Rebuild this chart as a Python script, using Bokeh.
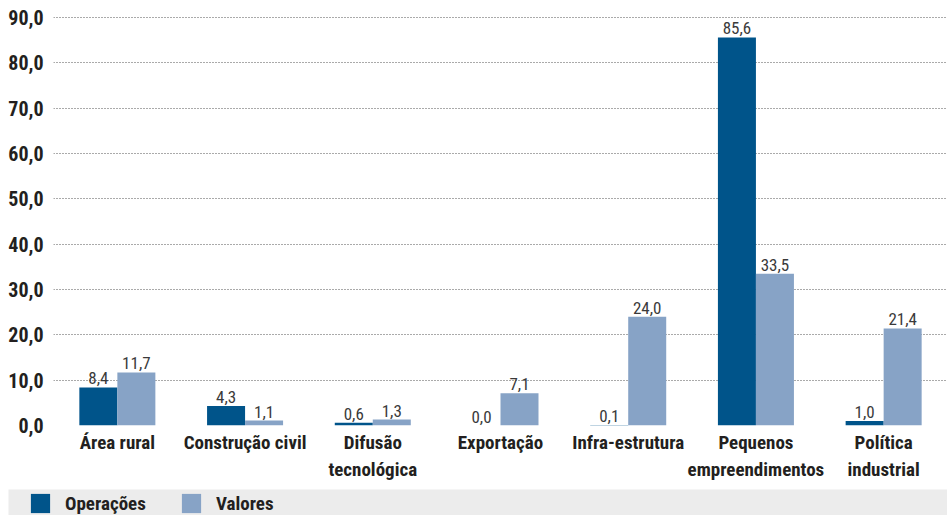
from bokeh.plotting import figure
from bokeh.models import (FactorRange, Range1d, FixedTicker, CustomJSTickFormatter,
                          ColumnDataSource, Legend, LegendItem)
from bokeh.transform import dodge
from bokeh.layouts import column
from bokeh.core.properties import value
from bokeh.embed import file_html
from bokeh.resources import INLINE

categories = ["Área rural", "Construção civil", "Difusão\ntecnológica", "Exportação",
              "Infra-estrutura", "Pequenos\nempreendimentos", "Política\nindustrial"]
operacoes = [8.4, 4.3, 0.6, 0.0, 0.1, 85.6, 1.0]
valores = [11.7, 1.1, 1.3, 7.1, 24.0, 33.5, 21.4]
series_names = ["Operações", "Valores"]
y_ticks = [0, 10, 20, 30, 40, 50, 60, 70, 80, 90]

DARK = "#00548a"
LIGHT = "#87a3c6"
TXT = "#231f20"
FONT = "Roboto Condensed, DejaVu Sans Condensed, Roboto"


def fmt(v):
    return f"{v:.1f}".replace(".", ",")


src = ColumnDataSource(dict(
    cat=categories,
    ops=operacoes,
    vals=valores,
    ops_lbl=[fmt(v) for v in operacoes],
    vals_lbl=[fmt(v) for v in valores],
))

bw = 0.2976

# ---------------- main chart ----------------
p = figure(x_range=FactorRange(*categories), y_range=Range1d(0, 93.75),
           width=947, height=489, output_backend="svg", toolbar_location=None,
           min_border_left=53, min_border_right=0, min_border_top=0, min_border_bottom=64)
p.outline_line_color = None
p.background_fill_color = "white"
p.border_fill_color = "white"

p.vbar(x=dodge("cat", -bw / 2, range=p.x_range), top="ops", width=bw, source=src,
       fill_color=DARK, line_color=None)
p.vbar(x=dodge("cat", bw / 2, range=p.x_range), top="vals", width=bw, source=src,
       fill_color=LIGHT, line_color=None)

for col, lbl, off in (("ops", "ops_lbl", -bw / 2), ("vals", "vals_lbl", bw / 2)):
    p.text(x=dodge("cat", off, range=p.x_range), y=col, text=lbl, source=src,
           text_align="center", text_baseline="bottom", y_offset=-3,
           text_font=value(FONT), text_font_size="17px", text_color="#3a3a3a")

p.xgrid.grid_line_color = None
p.ygrid.ticker = FixedTicker(ticks=y_ticks)
p.ygrid.grid_line_color = "#555555"
p.ygrid.grid_line_dash = "1 2"
p.ygrid.grid_line_width = 1

p.yaxis.ticker = FixedTicker(ticks=y_ticks)
p.yaxis.formatter = CustomJSTickFormatter(code="return tick.toFixed(1).replace('.', ',');")
p.yaxis.axis_line_color = None
p.yaxis.major_tick_line_color = None
p.yaxis.minor_tick_line_color = None
p.yaxis.major_tick_out = 0
p.yaxis.major_tick_in = 0
p.yaxis.major_label_standoff = 10
p.yaxis.major_label_text_font = FONT
p.yaxis.major_label_text_font_style = "bold"
p.yaxis.major_label_text_font_size = "20px"
p.yaxis.major_label_text_color = TXT

p.xaxis.axis_line_color = None
p.xaxis.major_tick_line_color = None
p.xaxis.major_tick_out = 0
p.xaxis.major_tick_in = 0
p.xaxis.major_label_standoff = 5
p.xaxis.major_label_text_font = FONT
p.xaxis.major_label_text_font_style = "bold"
p.xaxis.major_label_text_font_size = "19px"
p.xaxis.major_label_text_color = TXT

# ---------------- legend band ----------------
p2 = figure(x_range=FactorRange(*categories), y_range=Range1d(-2, -1),
            width=947, height=26, output_backend="svg", toolbar_location=None,
            x_axis_type=None, y_axis_type=None,
            min_border_left=8, min_border_right=0, min_border_top=0, min_border_bottom=0)
p2.background_fill_color = "#ececec"
p2.border_fill_color = "white"
p2.outline_line_color = None
p2.grid.visible = False

for fig in (p, p2):
    try:
        fig.frame_align = False
    except Exception:
        pass

# zero-area proxies of the two series: only their legend swatches are visible
l_ops = p2.vbar(x="cat", top="ops", bottom="ops", width=0, source=src,
                fill_color=DARK, line_color=None)
l_vals = p2.vbar(x="cat", top="vals", bottom="vals", width=0, source=src,
                 fill_color=LIGHT, line_color=None)
leg = Legend(items=[LegendItem(label=series_names[0], renderers=[l_ops]),
                    LegendItem(label=series_names[1], renderers=[l_vals])],
             location=(20, 0), orientation="horizontal", padding=0, margin=0,
             spacing=4, glyph_width=24, glyph_height=24, label_standoff=13,
             label_width=110, border_line_color=None, background_fill_alpha=0,
             label_text_font=FONT, label_text_font_style="bold",
             label_text_font_size="19px", label_text_color=TXT)
p2.add_layout(leg, "center")

layout = column(p, p2, spacing=0)
open("out.html", "w").write(file_html(layout, INLINE))
